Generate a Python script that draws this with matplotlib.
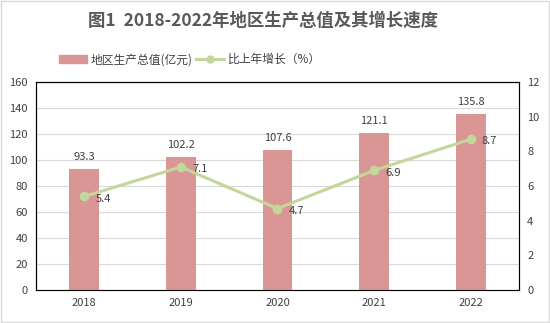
import matplotlib.pyplot as plt
from matplotlib.lines import Line2D
from matplotlib.patches import Patch

plt.rcParams['font.family'] = ['Noto Sans CJK SC', 'DejaVu Sans']

years = ['2018', '2019', '2020', '2021', '2022']
gdp = [93.3, 102.2, 107.6, 121.1, 135.8]
growth = [5.4, 7.1, 4.7, 6.9, 8.7]

bar_color = '#D99694'
line_color = '#C3D69B'
text_color = '#404040'

fig = plt.figure(figsize=(5.5, 3.23), dpi=100)
ax = fig.add_axes([0.0655, 0.102, 0.878, 0.644])
ax2 = ax.twinx()

x = range(len(years))
ax.bar(x, gdp, width=0.31, color=bar_color, zorder=2)
ax.set_ylim(0, 160)
ax.set_yticks(range(0, 161, 20))
ax.set_xlim(-0.5, len(years) - 0.5)
ax.set_xticks(list(x))
ax.set_xticklabels(years)
ax.grid(axis='y', color='#D9D9D9', linewidth=0.8, zorder=0)
ax.set_axisbelow(True)

for i, v in enumerate(gdp):
    ax.annotate(f'{v}', (i, v), xytext=(0, 5), textcoords='offset points',
                ha='center', va='bottom', fontsize=8, color=text_color)

ax2.plot(list(x), growth, color=line_color, linewidth=2.2, marker='o',
         markersize=6, zorder=3)
ax2.set_ylim(0, 12)
ax2.set_yticks(range(0, 13, 2))
for i, v in enumerate(growth):
    ax2.annotate(f'{v}', (i, v), xytext=(8, -1.5), textcoords='offset points',
                 ha='left', va='center', fontsize=8, color=text_color)

for a in (ax, ax2):
    a.tick_params(length=0, labelsize=8, labelcolor=text_color, pad=6)
    for s in a.spines.values():
        s.set_color('black')
        s.set_linewidth(0.8)
ax.spines['bottom'].set_color('#A6A6A6')

fig.text(0.478, 0.935, '图1  2018-2022年地区生产总值及其增长速度', ha='center',
         va='center', fontsize=12.5, fontweight='bold', color='#595959')

handles = [Patch(color=bar_color),
           Line2D([0], [0], color=line_color, linewidth=2.2, marker='o', markersize=5)]
fig.legend(handles, ['地区生产总值(亿元)', '比上年增长（%）'], loc='center',
           bbox_to_anchor=(0.345, 0.815), ncol=2, frameon=False, fontsize=8.5,
           handlelength=2.4, handletextpad=0.3, columnspacing=0.3,
           labelcolor=text_color)

fig.patches.append(plt.Rectangle((0.002, 0.003), 0.996, 0.994, transform=fig.transFigure,
                                 fill=False, edgecolor='#D9D9D9', linewidth=1))

fig.savefig('out.png', dpi=100)
